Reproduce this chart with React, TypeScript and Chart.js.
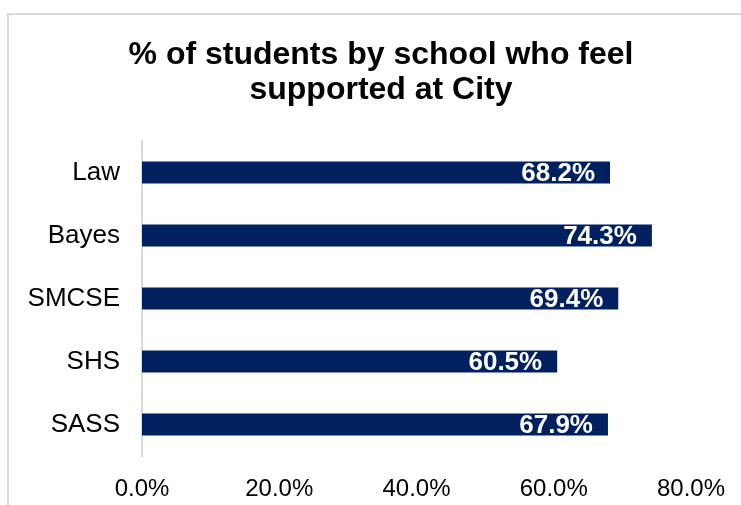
import React, { useEffect, useRef } from "react";
import { Chart, registerables } from "chart.js";

Chart.register(...registerables);

const categories = ["Law", "Bayes", "SMCSE", "SHS", "SASS"];
const values = [68.2, 74.3, 69.4, 60.5, 67.9];
const titleLines = ["% of students by school who feel", "supported at City"];
const xTickValues = [0, 20, 40, 60, 80];

const FONT = "'Liberation Sans', Arial, sans-serif";
const BAR_COLOR = "#002060";
const W = 744;
const H = 500;

const titlePlugin = {
  id: "customTitle",
  afterDraw(chart: any) {
    const ctx = chart.ctx;
    ctx.save();
    ctx.fillStyle = "#000";
    ctx.font = `bold 32px ${FONT}`;
    ctx.textAlign = "center";
    ctx.textBaseline = "alphabetic";
    ctx.fillText(titleLines[0], chart.width / 2, 49);
    ctx.fillText(titleLines[1], chart.width / 2, 84);
    ctx.restore();
  },
};

const labelPlugin = {
  id: "barLabels",
  afterDatasetsDraw(chart: any) {
    const ctx = chart.ctx;
    const meta = chart.getDatasetMeta(0);
    ctx.save();
    ctx.fillStyle = "#fff";
    ctx.font = `bold 26px ${FONT}`;
    ctx.textAlign = "right";
    ctx.textBaseline = "middle";
    meta.data.forEach((bar: any, i: number) => {
      const v = chart.data.datasets[0].data[i];
      ctx.fillText(v.toFixed(1) + "%", bar.x - 15, bar.y + 1);
    });
    ctx.restore();
  },
};

export default function App() {
  const ref = useRef<HTMLCanvasElement>(null);
  useEffect(() => {
    if (!ref.current) return;
    const chart = new Chart(ref.current, {
      type: "bar",
      data: {
        labels: categories,
        datasets: [
          {
            data: values,
            backgroundColor: BAR_COLOR,
            borderWidth: 0,
            barPercentage: 0.35,
            categoryPercentage: 1,
          },
        ],
      },
      options: {
        indexAxis: "y",
        responsive: false,
        animation: false,
        devicePixelRatio: 1,
        layout: { padding: { left: 0, top: 126, right: 62, bottom: 0 } },
        plugins: {
          legend: { display: false },
          title: { display: false },
          tooltip: { enabled: false },
        },
        scales: {
          x: {
            min: 0,
            max: 80,
            afterFit(scale: any) {
              scale.height = 59;
            },
            afterBuildTicks(scale: any) {
              scale.ticks = xTickValues.map((v) => ({ value: v }));
            },
            grid: { display: false, drawTicks: false },
            border: { display: false },
            ticks: {
              color: "#000",
              font: { family: FONT, size: 24 },
              padding: 19,
              maxRotation: 0,
              callback: (v: any) => Number(v).toFixed(1) + "%",
            },
          },
          y: {
            afterFit(scale: any) {
              scale.width = 133;
            },
            grid: { display: false, drawTicks: false },
            border: { display: true, color: "#d9d9d9", width: 2 },
            ticks: {
              color: "#000",
              font: { family: FONT, size: 26 },
              padding: 22,
            },
          },
        },
      },
      plugins: [titlePlugin, labelPlugin],
    } as any);
    return () => chart.destroy();
  }, []);

  return (
    <div
      style={{
        position: "fixed",
        left: 0,
        top: 0,
        width: 741,
        height: 505,
        overflow: "hidden",
        background: "#fff",
      }}
    >
      <div
        style={{
          position: "absolute",
          left: 7,
          top: 13,
          width: W,
          height: H,
          border: "2px solid #d9d9d9",
          background: "#fff",
        }}
      >
        <canvas ref={ref} width={W} height={H} style={{ display: "block", width: W, height: H }} />
      </div>
    </div>
  );
}
